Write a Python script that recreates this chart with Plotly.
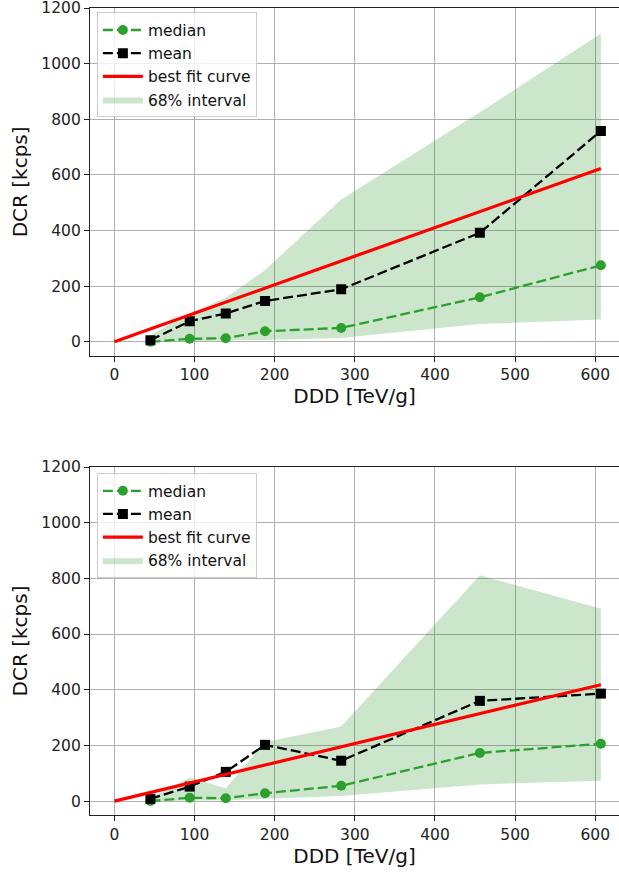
import plotly.graph_objects as go

# ---- data ----
ddd = [45, 94, 139, 188, 283, 456, 607]

top_median = [0, 11, 13, 38, 50, 160, 275]
top_mean = [6, 74, 102, 147, 189, 392, 758]
top_lower = [0, 2, 4, 7, 14, 64, 80]
top_upper = [24, 104, 158, 258, 512, 825, 1108]

bot_median = [0, 12, 10, 28, 55, 173, 206]
bot_mean = [8, 52, 105, 202, 145, 360, 386]
bot_lower = [0, 2, 3, 8, 18, 60, 73]
bot_upper = [12, 85, 46, 212, 268, 811, 691]

fit_x = [0, 607]
top_fit = [0, 623]
bot_fit = [0, 418]

x_ticks = [0, 100, 200, 300, 400, 500, 600]
y_ticks = [0, 200, 400, 600, 800, 1000, 1200]

GREEN = "#2ca02c"
BAND = "rgba(0,128,0,0.2)"
FONT = "DejaVu Sans"

fig = go.Figure()

def add_panel(xa, ya, legend, med, mean, lo, hi, fit):
    fig.add_trace(go.Scatter(x=ddd, y=lo, mode="lines", line=dict(width=0),
                             showlegend=False, hoverinfo="skip",
                             xaxis=xa, yaxis=ya, legend=legend))
    fig.add_trace(go.Scatter(x=ddd, y=hi, mode="lines", line=dict(width=0),
                             fill="tonexty", fillcolor=BAND, name="68% interval",
                             legendrank=4, xaxis=xa, yaxis=ya, legend=legend))
    fig.add_trace(go.Scatter(x=ddd, y=med, mode="lines+markers", name="median",
                             line=dict(color=GREEN, width=2.3, dash="10px,4px"),
                             marker=dict(symbol="circle", size=10, color=GREEN),
                             legendrank=1, xaxis=xa, yaxis=ya, legend=legend))
    fig.add_trace(go.Scatter(x=ddd, y=mean, mode="lines+markers", name="mean",
                             line=dict(color="black", width=2.3, dash="10px,4px"),
                             marker=dict(symbol="square", size=10, color="black"),
                             legendrank=2, xaxis=xa, yaxis=ya, legend=legend))
    fig.add_trace(go.Scatter(x=fit_x, y=fit, mode="lines", name="best fit curve",
                             line=dict(color="red", width=3.2),
                             legendrank=3, xaxis=xa, yaxis=ya, legend=legend))

add_panel("x", "y", "legend", top_median, top_mean, top_lower, top_upper, top_fit)
add_panel("x2", "y2", "legend2", bot_median, bot_mean, bot_lower, bot_upper, bot_fit)

common_x = dict(range=[-30.4, 629.6], tickvals=x_ticks, showgrid=True,
                gridcolor="#b0b0b0", gridwidth=1.2, showline=True, linecolor="#222",
                linewidth=1.3, mirror=True, ticks="outside", ticklen=5, tickwidth=1.2,
                tickcolor="#222", zeroline=False, ticklabeloverflow="allow",
                tickfont=dict(family=FONT, size=15.5, color="#222"),
                title=dict(text="DDD [TeV/g]", font=dict(family=FONT, size=20, color="#111"),
                           standoff=4))
common_y = dict(range=[-50, 1200], tickvals=y_ticks, showgrid=True,
                gridcolor="#b0b0b0", gridwidth=1.2, showline=True, linecolor="#222",
                linewidth=1.3, mirror=False, ticks="outside", ticklen=5, tickwidth=1.2,
                tickcolor="#222", zeroline=False, ticklabeloverflow="allow",
                tickfont=dict(family=FONT, size=15.5, color="#222"),
                title=dict(text="DCR [kcps]", font=dict(family=FONT, size=20, color="#111"),
                           standoff=8))

legend_common = dict(xanchor="left", yanchor="top", traceorder="normal",
                     bgcolor="rgba(255,255,255,0.8)", bordercolor="#cccccc", borderwidth=1,
                     font=dict(family=FONT, size=15.5, color="#111"), itemwidth=40,
                     tracegroupgap=0)

fig.update_layout(
    width=619, height=873,
    margin=dict(l=90, r=0, t=8, b=58),
    plot_bgcolor="white", paper_bgcolor="white",
    font=dict(family=FONT, color="#111"),
    xaxis=dict(common_x, domain=[0, 1], anchor="y"),
    yaxis=dict(common_y, domain=[0.5691, 1], anchor="x"),
    xaxis2=dict(common_x, domain=[0, 1], anchor="y2"),
    yaxis2=dict(common_y, domain=[0, 0.4312], anchor="x2"),
    legend=dict(legend_common, x=0.013, y=0.9945),
    legend2=dict(legend_common, x=0.013, y=0.4235),
    showlegend=True,
)

fig.write_html("out.html")
